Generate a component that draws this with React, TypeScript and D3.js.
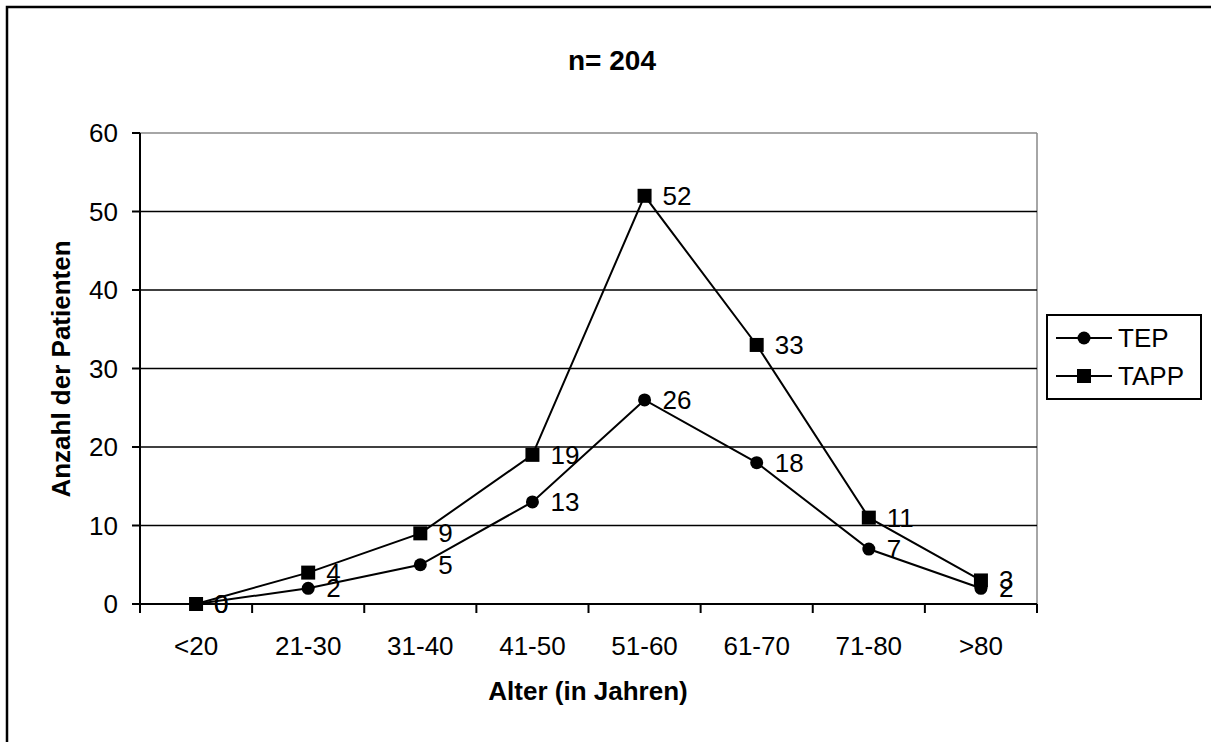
import React from "react";
import { scaleBand, scaleLinear, line } from "d3";

const categories = ["<20", "21-30", "31-40", "41-50", "51-60", "61-70", "71-80", ">80"];
const tepValues = [0, 2, 5, 13, 26, 18, 7, 2];
const tappValues = [0, 4, 9, 19, 52, 33, 11, 3];
const yTicks = [0, 10, 20, 30, 40, 50, 60];

const font = "Arial, 'Liberation Sans', sans-serif";

export default function App() {
  const width = 1211;
  const height = 742;
  const plot = { left: 140, right: 1037, top: 133, bottom: 604 };

  const x = scaleBand<string>().domain(categories).range([plot.left, plot.right]);
  const y = scaleLinear().domain([0, 60]).range([plot.bottom, plot.top]);
  const cx = (c: string) => (x(c) as number) + x.bandwidth() / 2;

  const path = line<number>()
    .x((_, i) => cx(categories[i]))
    .y((d) => y(d));

  const edges = categories.map((c) => x(c) as number).concat([plot.right]);

  return (
    <svg
      width={width}
      height={height}
      style={{ position: "absolute", left: 0, top: 0, background: "white" }}
      fontFamily={font}
    >
      <rect x={0} y={0} width={width} height={height} fill="white" />
      {/* outer chart frame, runs off the right and bottom */}
      <rect x={7} y={7} width={width + 20} height={height + 20} fill="none" stroke="black" strokeWidth={2.5} />

      <text x={612} y={70} textAnchor="middle" fontSize={28} fontWeight="bold">
        n= 204
      </text>

      {/* plot area border */}
      <line x1={plot.left} x2={plot.right} y1={plot.top} y2={plot.top} stroke="#888" strokeWidth={1.5} />
      <line x1={plot.right} x2={plot.right} y1={plot.top} y2={plot.bottom} stroke="#888" strokeWidth={1.5} />

      {/* gridlines */}
      {yTicks.slice(1, -1).map((t) => (
        <line key={t} x1={plot.left} x2={plot.right} y1={y(t)} y2={y(t)} stroke="black" strokeWidth={1.5} />
      ))}

      {/* y axis */}
      <line x1={plot.left} x2={plot.left} y1={plot.top} y2={plot.bottom} stroke="black" strokeWidth={2} />
      {yTicks.map((t) => (
        <g key={t}>
          <line x1={plot.left - 8} x2={plot.left} y1={y(t)} y2={y(t)} stroke="black" strokeWidth={2} />
          <text x={118} y={y(t)} textAnchor="end" dominantBaseline="central" fontSize={26}>
            {t}
          </text>
        </g>
      ))}

      {/* x axis */}
      <line x1={plot.left} x2={plot.right} y1={plot.bottom} y2={plot.bottom} stroke="black" strokeWidth={2} />
      {edges.map((e, i) => (
        <line key={i} x1={e} x2={e} y1={plot.bottom} y2={plot.bottom + 9} stroke="black" strokeWidth={2} />
      ))}
      {categories.map((c) => (
        <text key={c} x={cx(c)} y={646} textAnchor="middle" dominantBaseline="central" fontSize={26}>
          {c}
        </text>
      ))}

      <text x={588} y={691} textAnchor="middle" dominantBaseline="central" fontSize={26} fontWeight="bold">
        Alter (in Jahren)
      </text>
      <text
        transform={`translate(61, 369) rotate(-90)`}
        textAnchor="middle"
        dominantBaseline="central"
        fontSize={26}
        fontWeight="bold"
      >
        Anzahl der Patienten
      </text>

      {/* series */}
      <path d={path(tepValues) ?? ""} fill="none" stroke="black" strokeWidth={2} />
      <path d={path(tappValues) ?? ""} fill="none" stroke="black" strokeWidth={2} />
      {tepValues.map((v, i) => (
        <circle key={"c" + i} cx={cx(categories[i])} cy={y(v)} r={6.5} fill="black" />
      ))}
      {tappValues.map((v, i) => (
        <rect key={"s" + i} x={cx(categories[i]) - 7} y={y(v) - 7} width={14} height={14} fill="black" />
      ))}
      {tappValues.map((v, i) => (
        <text key={"lt" + i} x={cx(categories[i]) + 18} y={y(v)} dominantBaseline="central" fontSize={26}>
          {v}
        </text>
      ))}
      {tepValues.map((v, i) => (
        <text key={"lc" + i} x={cx(categories[i]) + 18} y={y(v)} dominantBaseline="central" fontSize={26}>
          {v}
        </text>
      ))}

      {/* legend */}
      <rect x={1047} y={315} width={154} height={84} fill="white" stroke="black" strokeWidth={2} />
      <line x1={1056} x2={1112} y1={338} y2={338} stroke="black" strokeWidth={2} />
      <circle cx={1084} cy={338} r={6.5} fill="black" />
      <text x={1118} y={338} dominantBaseline="central" fontSize={26}>
        TEP
      </text>
      <line x1={1056} x2={1112} y1={376} y2={376} stroke="black" strokeWidth={2} />
      <rect x={1077} y={369} width={14} height={14} fill="black" />
      <text x={1118} y={376} dominantBaseline="central" fontSize={26}>
        TAPP
      </text>
    </svg>
  );
}
